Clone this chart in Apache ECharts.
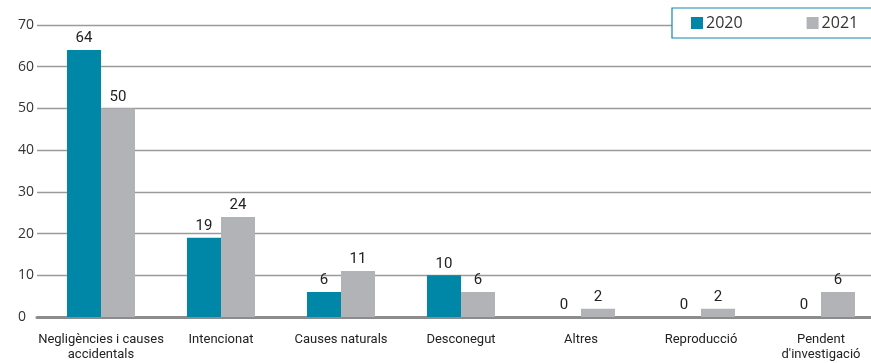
<!DOCTYPE html>
<html><head><meta charset="utf-8">
<script src="https://cdn.jsdelivr.net/npm/echarts@6/dist/echarts.min.js"></script>
<style>html,body{margin:0;padding:0;background:#fff}#c{width:871px;height:363px}</style>
</head><body><div id="c"></div>
<script>
const categories = ["Negligències i causes\naccidentals", "Intencionat", "Causes naturals", "Desconegut", "Altres", "Reproducció", "Pendent\nd'investigació"];
const values2020 = [64, 19, 6, 10, 0, 0, 0];
const values2021 = [50, 24, 11, 6, 2, 2, 6];
const seriesNames = ["2020", "2021"];
const yTicks = [0, 10, 20, 30, 40, 50, 60, 70];

const chart = echarts.init(document.getElementById('c'), null, {renderer: 'canvas'});
const labelStyle = {show: true, position: 'top', distance: 4, color: '#222', fontFamily: 'Roboto', fontSize: 15};
const yMin = yTicks[0], yMax = yTicks[yTicks.length - 1];
chart.setOption({
  animation: false,
  backgroundColor: '#fff',
  grid: [
    {left: 37, right: 0, top: 25, bottom: 46, containLabel: false},
    {left: 101, right: 50, top: 25, bottom: 46, containLabel: false}
  ],
  legend: {
    left: 672, top: 8, width: 199,
    backgroundColor: '#fff', borderColor: '#0f8aa8', borderWidth: 1.2,
    padding: [7, 20, 7, 19], itemGap: 64, itemWidth: 12, itemHeight: 12, icon: 'rect',
    textStyle: {fontFamily: 'Open Sans', fontSize: 16, color: '#333', padding: [0,0,0,-2]},
    data: seriesNames
  },
  xAxis: [
    {
      gridIndex: 0, type: 'category', data: categories,
      axisLine: {show: true, lineStyle: {color: '#8c8c8c', width: 3}},
      axisTick: {show: false}, axisLabel: {show: false}, splitLine: {show: false}
    },
    {
      gridIndex: 1, type: 'category', data: categories, boundaryGap: false,
      axisLine: {show: false}, axisTick: {show: false}, splitLine: {show: false},
      axisLabel: {margin: 15, color: '#222', fontFamily: 'Roboto', fontSize: 13, lineHeight: 15, interval: 0}
    }
  ],
  yAxis: [
    {
      gridIndex: 0, type: 'value', min: yMin, max: yMax, interval: 10,
      axisLine: {show: false}, axisTick: {show: false},
      splitLine: {lineStyle: {color: '#9a9a9a', width: 1.3}},
      axisLabel: {align: 'left', margin: 19, color: '#333', fontFamily: 'Open Sans', fontSize: 14}
    },
    {
      gridIndex: 1, type: 'value', min: yMin, max: yMax, interval: 10,
      axisLine: {show: false}, axisTick: {show: false}, splitLine: {show: false}, axisLabel: {show: false}
    }
  ],
  series: [
    {name: seriesNames[0], type: 'bar', xAxisIndex: 1, yAxisIndex: 1, data: values2020, barWidth: 34, barGap: '0%', itemStyle: {color: '#0086a6'}, label: labelStyle},
    {name: seriesNames[1], type: 'bar', xAxisIndex: 1, yAxisIndex: 1, data: values2021, barWidth: 34, barGap: '0%', itemStyle: {color: '#b2b3b7'}, label: labelStyle}
  ]
});
</script></body></html>
